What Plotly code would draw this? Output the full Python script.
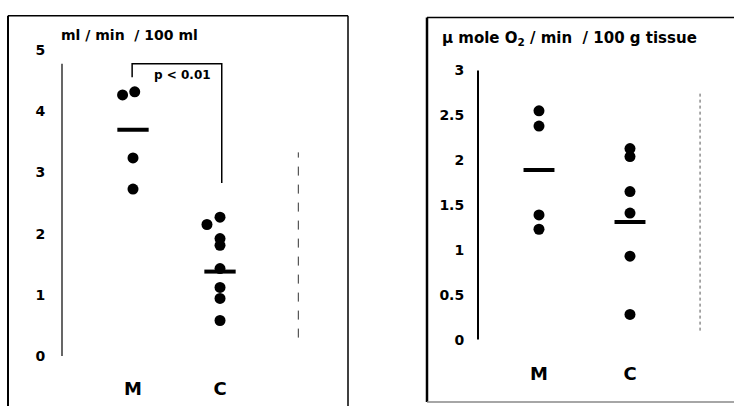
import plotly.graph_objects as go

# ---------------- data ----------------
categories = ["M", "C"]
cat_pos = [1, 2]

# Left panel: blood flow (ml / min / 100 ml)
flow_M_x = [0.88, 1.02, 1.0, 1.0]
flow_M = [4.27, 4.32, 3.24, 2.73]
flow_C_x = [2.0, 1.85, 2.0, 2.0, 2.0, 2.0, 2.0, 2.0]
flow_C = [2.27, 2.15, 1.92, 1.81, 1.43, 1.12, 0.94, 0.58]
flow_means = [3.70, 1.38]
flow_ticks = [0, 1, 2, 3, 4, 5]

# Right panel: oxygen consumption (µmole O2 / min / 100 g tissue)
oxy_M = [2.55, 2.38, 1.39, 1.23]
oxy_C = [2.13, 2.04, 1.65, 1.41, 0.93, 0.28]
oxy_means = [1.89, 1.31]
oxy_ticks = [0, 0.5, 1, 1.5, 2, 2.5, 3]
oxy_ticklabels = ["0", "0.5", "1", "1.5", "2", "2.5", "3"]

p_text = "p < 0.01"
left_title = "ml / min  / 100 ml"
right_title = "\u03bc mole O<sub>2</sub> / min  / 100 g tissue"

W, H = 734, 412
FONT = "DejaVu Sans"


def px(x):
    return x / W


def py(y):
    return 1 - y / H


fig = go.Figure()
dot = dict(color="black", size=11)

# left panel points
fig.add_trace(go.Scatter(x=flow_M_x, y=flow_M, mode="markers", marker=dot,
                         xaxis="x", yaxis="y", showlegend=False))
fig.add_trace(go.Scatter(x=flow_C_x, y=flow_C, mode="markers", marker=dot,
                         xaxis="x", yaxis="y", showlegend=False))
# right panel points
fig.add_trace(go.Scatter(x=[cat_pos[0]] * len(oxy_M), y=oxy_M, mode="markers", marker=dot,
                         xaxis="x2", yaxis="y2", showlegend=False))
fig.add_trace(go.Scatter(x=[cat_pos[1]] * len(oxy_C), y=oxy_C, mode="markers", marker=dot,
                         xaxis="x2", yaxis="y2", showlegend=False))

# mean bars
for c, m in zip(cat_pos, flow_means):
    fig.add_trace(go.Scatter(x=[c - 0.18, c + 0.18], y=[m, m], mode="lines",
                             line=dict(color="black", width=4),
                             xaxis="x", yaxis="y", showlegend=False))
for c, m in zip(cat_pos, oxy_means):
    fig.add_trace(go.Scatter(x=[c - 0.17, c + 0.17], y=[m, m], mode="lines",
                             line=dict(color="black", width=4),
                             xaxis="x2", yaxis="y2", showlegend=False))

# significance bracket (left panel)
fig.add_trace(go.Scatter(x=[0.99, 0.99, 2.02, 2.02], y=[4.56, 4.78, 4.78, 2.83],
                         mode="lines", line=dict(color="black", width=1.5),
                         xaxis="x", yaxis="y", showlegend=False))

tickfont = dict(family=FONT, size=14, color="black", weight="bold")
catfont = dict(family=FONT, size=18, color="black", weight="bold")

fig.update_layout(
    width=W, height=H,
    margin=dict(l=0, r=0, t=0, b=0),
    paper_bgcolor="white", plot_bgcolor="rgba(0,0,0,0)",
    xaxis=dict(domain=[px(62), px(348)], range=[0.184, 3.471],
               tickvals=cat_pos, ticktext=categories, tickfont=catfont,
               ticks="outside", ticklen=16, tickcolor="rgba(0,0,0,0)",
               showgrid=False, zeroline=False, showline=False, anchor="y"),
    yaxis=dict(domain=[py(362), py(44)], range=[0, 5],
               tickvals=flow_ticks, tickfont=tickfont,
               ticks="outside", ticklen=13, tickcolor="rgba(0,0,0,0)",
               showgrid=False, zeroline=False, showline=False, anchor="x"),
    xaxis2=dict(domain=[px(478), 1.0], range=[0.3297, 3.143],
                tickvals=cat_pos, ticktext=categories, tickfont=catfont,
                ticks="outside", ticklen=18, tickcolor="rgba(0,0,0,0)",
                showgrid=False, zeroline=False, showline=False, anchor="y2"),
    yaxis2=dict(domain=[py(345), py(65)], range=[0, 3],
                tickvals=oxy_ticks, ticktext=oxy_ticklabels, tickfont=tickfont,
                ticks="outside", ticklen=10, tickcolor="rgba(0,0,0,0)",
                showgrid=False, zeroline=False, showline=False, anchor="x2"),
)

shapes = [
    # left frame
    dict(type="line", xref="paper", yref="paper", x0=px(8), x1=px(8), y0=py(8), y1=py(414),
         line=dict(color="black", width=2)),
    dict(type="line", xref="paper", yref="paper", x0=px(8), x1=px(348), y0=py(8), y1=py(8),
         line=dict(color="black", width=1.5)),
    dict(type="line", xref="paper", yref="paper", x0=px(348), x1=px(348), y0=py(8), y1=py(414),
         line=dict(color="black", width=1.5)),
    # right frame
    dict(type="line", xref="paper", yref="paper", x0=px(427), x1=px(427), y0=py(10), y1=py(410),
         line=dict(color="black", width=2.5)),
    dict(type="line", xref="paper", yref="paper", x0=px(427), x1=1.0, y0=py(10), y1=py(10),
         line=dict(color="black", width=1.5)),
    dict(type="line", xref="paper", yref="paper", x0=px(427), x1=1.0, y0=py(410), y1=py(410),
         line=dict(color="#888888", width=1.5)),
    # left y axis line
    dict(type="line", xref="x domain", yref="y", x0=0, x1=0, y0=0, y1=4.78,
         line=dict(color="black", width=1.2)),
    # right y axis line
    dict(type="line", xref="x2 domain", yref="y2", x0=0, x1=0, y0=-0.01, y1=3.02,
         line=dict(color="black", width=2)),
    # dashed right-hand lines
    dict(type="line", xref="x", yref="y", x0=2.90, x1=2.90, y0=0.3, y1=3.33,
         line=dict(color="#333333", width=1, dash="dash")),
    dict(type="line", xref="x2", yref="y2", x0=2.77, x1=2.77, y0=0.1, y1=2.77,
         line=dict(color="#555555", width=1, dash="dot")),
]
fig.update_layout(shapes=shapes)

fig.add_annotation(text=left_title, xref="paper", yref="paper", x=px(59), y=py(28),
                   xanchor="left", yanchor="middle", showarrow=False,
                   font=dict(family=FONT, size=14, color="black", weight="bold"))
fig.add_annotation(text=right_title, xref="paper", yref="paper", x=px(440), y=py(32),
                   xanchor="left", yanchor="middle", showarrow=False,
                   font=dict(family=FONT, size=15, color="black", weight="bold"))
fig.add_annotation(text=p_text, xref="x", yref="y", x=1.57, y=4.59,
                   xanchor="center", yanchor="middle", showarrow=False,
                   font=dict(family=FONT, size=12, color="black", weight="bold"))

fig.write_html("out.html", config={"displayModeBar": False},
               post_script="document.body.style.margin='0px';")
